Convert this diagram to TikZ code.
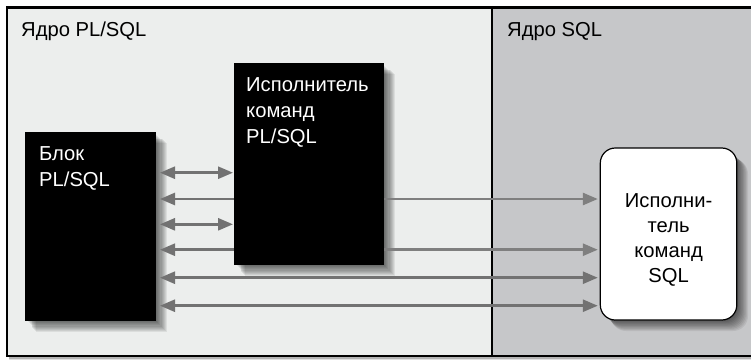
\documentclass[tikz,border=0pt]{standalone}
\usepackage{fontspec}
\setmainfont{Liberation Sans}
\usetikzlibrary{arrows.meta}
\definecolor{paneL}{HTML}{ECEEED}
\definecolor{paneR}{HTML}{C6C7C9}
\definecolor{arrowL}{HTML}{727272}
\definecolor{arrowR}{HTML}{7F7F7F}
\tikzset{
  x=1pt,y=-1pt,
  panel/.style={inner sep=0pt,outer sep=0pt},
  blackbox/.style={fill=black,draw=none,inner sep=0pt,outer sep=0pt,anchor=north west},
  boxlabel/.style={text=white,align=left,anchor=north west,inner sep=0pt,font=\fontsize{20.2}{26}\selectfont},
  panellabel/.style={anchor=north west,inner sep=0pt,font=\fontsize{20.2}{24}\selectfont},
  sqlbox/.style={fill=white,draw=black,line width=1.2pt,rounded corners=15pt,inner sep=0pt,outer sep=0pt,anchor=north west},
  sqllabel/.style={align=center,inner sep=0pt,font=\fontsize{20.2}{24.8}\selectfont},
  flow/.style={line width=2.6pt,arrowL,shorten <=4pt,shorten >=1pt},
  both/.style={flow,{Triangle[length=15pt,width=12pt]}-{Triangle[length=15pt,width=12pt]}},
  backarrow/.style={flow,{Triangle[length=15pt,width=12pt]}-,shorten >=0pt},
  longarrow/.style={flow,{Triangle[length=15pt,width=12pt]}-{Triangle[length=15pt,width=12pt]},shorten >=2.5pt},
  onearrow/.style={flow,-{Triangle[length=15pt,width=12pt]},arrowR,shorten <=0pt,shorten >=2.5pt},
  border/.style={black,line width=2.4pt},
}
\newcommand{\softshadow}[5]{% x1 y1 x2 y2 radius
  \foreach \i in {0,1,...,9}{
    \fill[black,opacity=0.07,rounded corners=#5]
      ({#1+11-\i*0.9},{#2+11-\i*0.9}) rectangle ({#3+11-\i*1.1},{#4+11-\i*1.1});
  }
}
\begin{document}
\begin{tikzpicture}
\useasboundingbox (0,0) rectangle (751,360);
\fill[white] (0,0) rectangle (751,360);
% outer frame
\fill[black,opacity=0.12] (9,357) rectangle (751,360);
\fill[black,opacity=0.2] (9,357) rectangle (751,358.5);
\node[panel,minimum width=744pt,minimum height=348.5pt,anchor=north west,fill=paneL] (frame) at (7,7.5) {};
\fill[paneR] (492,7.5) rectangle (frame.south east);
\draw[border] (frame.north east) -- (frame.north west) -- (frame.south west) -- (frame.south east);
\draw[black,line width=2.2pt] (frame.north -| 492,0) -- (frame.south -| 492,0);
\node[panellabel] (lblL) at (21,22) {Ядро PL/SQL};
\node[panellabel] (lblR) at (507,22) {Ядро SQL};
% shadows
\softshadow{25}{132}{156}{321}{0pt}
\softshadow{234}{63}{384}{265}{0pt}
\softshadow{600}{148}{737}{320}{15pt}
% boxes
\node[blackbox,minimum width=131pt,minimum height=189pt] (blok) at (25,132) {};
\node[blackbox,minimum width=150pt,minimum height=202pt] (isp) at (234,63) {};
\node[sqlbox,minimum width=136.5pt,minimum height=172pt] (sql) at (600.3,148) {};
\node[sqllabel] (sqlt) at (668.6,240) {Исполни-\\тель\\команд\\SQL};
\node[boxlabel] (blokt) at (39,146.5) {Блок\\PL/SQL};
\node[boxlabel] (ispt) at (246,77) {Исполнитель\\команд\\PL/SQL};
% rows
\coordinate (r1) at (0,172.7);
\coordinate (r2) at (0,199);
\coordinate (r3) at (0,224.3);
\coordinate (r4) at (0,249.7);
\coordinate (r5) at (0,277.7);
\coordinate (r6) at (0,305.7);
\draw[both] (blok.east |- r1) -- (isp.west |- r1);
\draw[backarrow] (blok.east |- r2) -- (isp.west |- r2);
\draw[both] (blok.east |- r3) -- (isp.west |- r3);
\draw[backarrow] (blok.east |- r4) -- (isp.west |- r4);
\draw[onearrow] (isp.east |- r2) -- (sql.west |- r2);
\draw[onearrow] (isp.east |- r4) -- (sql.west |- r4);
\draw[longarrow] (blok.east |- r5) -- (sql.west |- r5);
\draw[longarrow] (blok.east |- r6) -- (sql.west |- r6);
\end{tikzpicture}
\end{document}
